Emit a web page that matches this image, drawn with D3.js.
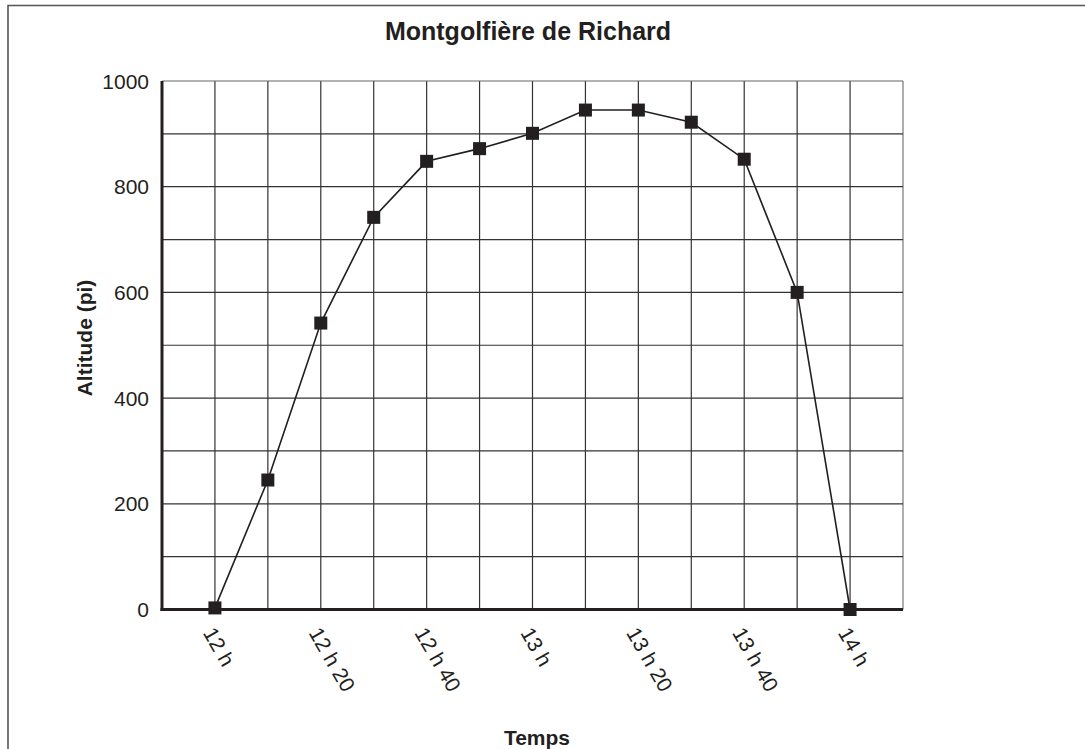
<!DOCTYPE html>
<html>
<head>
<meta charset="utf-8">
<script src="https://cdn.jsdelivr.net/npm/d3@7"></script>
<style>
  body { margin: 0; background: #fff; }
  svg { display: block; font-family: Arial, "Liberation Sans", sans-serif; }
</style>
</head>
<body>
<div id="chart"></div>
<script>
(function() {
    'use strict';

    // data
    var minutes = [0, 10, 20, 30, 40, 50, 60, 70, 80, 90, 100, 110, 120];
    var altitude = [3, 245, 542, 742, 848, 872, 901, 945, 945, 922, 852, 600, 0];
    var tickMinutes = [0, 20, 40, 60, 80, 100, 120];
    var tickLabels = ['12 h', '12 h 20', '12 h 40', '13 h', '13 h 20', '13 h 40', '14 h'];
    var yTicks = [0, 200, 400, 600, 800, 1000];

    var width = 1085, height = 749;
    var left = 162, right = 903, top = 81, bottom = 609.5;

    var svg = d3.select('#chart').append('svg')
        .attr('width', width)
        .attr('height', height);

    // frame (cropped: only top and left edges visible)
    svg.append('path')
        .attr('d', 'M8,' + (height + 5) + 'V5.5H' + (width + 5))
        .attr('fill', 'none')
        .attr('stroke', '#555')
        .attr('stroke-width', 1.6);

    var x = d3.scaleLinear().domain([-10, 130]).range([left, right]);
    var y = d3.scaleLinear().domain([0, 1000]).range([bottom, top]);

    // grid
    var g = svg.append('g');
    g.selectAll('line.v')
        .data(d3.range(0, 131, 10))
        .enter().append('line')
        .attr('x1', function(d) { return x(d); })
        .attr('x2', function(d) { return x(d); })
        .attr('y1', top)
        .attr('y2', bottom)
        .attr('stroke', function(d) { return d === 130 ? '#777' : '#333'; })
        .attr('stroke-width', 1.2);
    g.selectAll('line.h')
        .data(d3.range(100, 1001, 100))
        .enter().append('line')
        .attr('x1', left)
        .attr('x2', right)
        .attr('y1', function(d) { return y(d); })
        .attr('y2', function(d) { return y(d); })
        .attr('stroke', function(d) { return d === 1000 ? '#666' : '#333'; })
        .attr('stroke-width', 1.2);

    // axes lines
    svg.append('line')
        .attr('x1', left).attr('x2', left)
        .attr('y1', top).attr('y2', bottom + 1.5)
        .attr('stroke', '#231f20').attr('stroke-width', 3);
    svg.append('line')
        .attr('x1', left - 1.5).attr('x2', right)
        .attr('y1', bottom).attr('y2', bottom)
        .attr('stroke', '#231f20').attr('stroke-width', 3);

    // y tick labels
    svg.selectAll('text.yt')
        .data(yTicks)
        .enter().append('text')
        .attr('x', 149)
        .attr('y', function(d) { return y(d); })
        .attr('dy', '0.36em')
        .attr('text-anchor', 'end')
        .attr('font-size', 21)
        .attr('fill', '#231f20')
        .text(function(d) { return d; });

    // x tick labels
    svg.selectAll('text.xt')
        .data(tickMinutes)
        .enter().append('text')
        .attr('transform', function(d) { return 'translate(' + (x(d) - 6) + ',629) rotate(60)'; })
        .attr('dy', '0.36em')
        .attr('text-anchor', 'start')
        .attr('font-size', 21)
        .attr('fill', '#231f20')
        .text(function(d, i) { return tickLabels[i]; });

    // line + markers
    var pts = minutes.map(function(m, i) { return [m, altitude[i]]; });
    svg.append('path')
        .datum(pts)
        .attr('d', d3.line()
            .x(function(d) { return x(d[0]); })
            .y(function(d) { return y(d[1]); }))
        .attr('fill', 'none')
        .attr('stroke', '#231f20')
        .attr('stroke-width', 1.6);
    svg.selectAll('rect.pt')
        .data(pts)
        .enter().append('rect')
        .attr('x', function(d) { return x(d[0]) - 6.5; })
        .attr('y', function(d) { return y(d[1]) - 6.5; })
        .attr('width', 13)
        .attr('height', 13)
        .attr('fill', '#231f20');

    // titles
    svg.append('text')
        .attr('x', 528).attr('y', 40)
        .attr('text-anchor', 'middle')
        .attr('font-size', 25).attr('font-weight', 'bold')
        .attr('fill', '#231f20')
        .text('Montgolfière de Richard');
    svg.append('text')
        .attr('x', 537).attr('y', 745)
        .attr('text-anchor', 'middle')
        .attr('font-size', 21).attr('font-weight', 'bold')
        .attr('fill', '#231f20')
        .text('Temps');
    svg.append('text')
        .attr('transform', 'translate(92,338) rotate(-90)')
        .attr('text-anchor', 'middle')
        .attr('font-size', 21).attr('font-weight', 'bold')
        .attr('fill', '#231f20')
        .text('Altitude (pi)');
})();
</script>
</body>
</html>
